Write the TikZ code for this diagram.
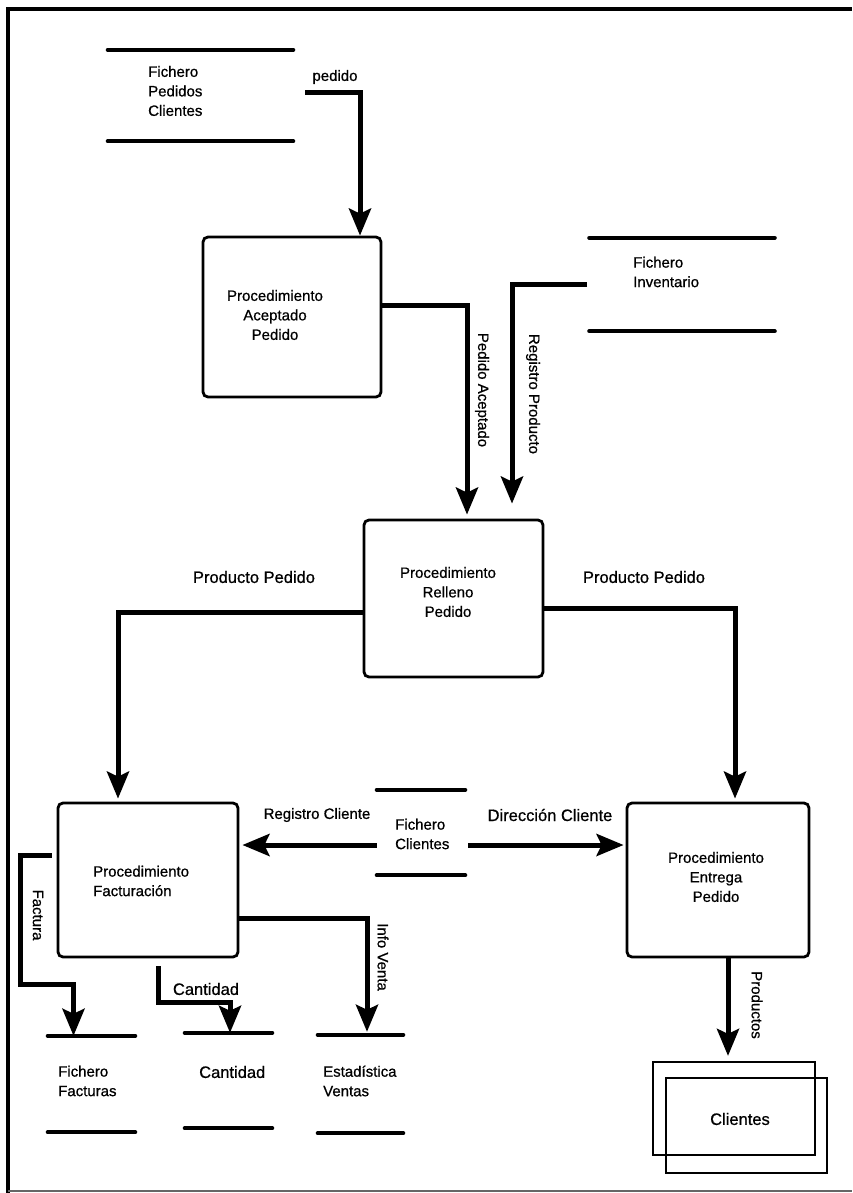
\documentclass[tikz,border=0pt]{standalone}
\usepackage{fontspec}
\setmainfont{Liberation Sans}[FakeBold=0.7]
\usetikzlibrary{arrows.meta,calc}

\tikzset{
  txt/.style={inner sep=0pt, font=\fontsize{15pt}{19.5pt}\selectfont},
  widetxt/.style={inner sep=0pt, font=\fontsize{16.5pt}{20pt}\selectfont},
  boxtext/.style={txt, align=center},
  storetext/.style={txt, align=left, anchor=west},
  flowlabel/.style={txt},
  vlabel/.style={txt, rotate=-90},
  proc/.style={draw, line width=2.8pt, rounded corners=5pt, inner sep=0pt},
  store/.style={inner sep=0pt},
  storeline/.style={line width=4.2pt, line cap=round},
  entity/.style={draw, line width=2.2pt, inner sep=0pt},
  flow/.style={line width=5pt, line join=miter,
    -{Stealth[length=27pt, width=22pt, inset=5pt]}},
}

\begin{document}
\begin{tikzpicture}[x=1pt, y=-1pt]
\useasboundingbox (0,0) rectangle (852,1193);

% page frame
\draw[line width=4pt] (8,1193) -- (8,9) -- (852,9);
\draw[black!60, line width=1.5pt] (8,1191) -- (852,1191);

% ---------- data stores ----------
\node[store, minimum width=185pt, minimum height=91pt] (fpc) at (200.5,95.5) {};
\node[storetext] (fpct) at (148,91) {Fichero\\Pedidos\\Clientes};

\node[store, minimum width=185pt, minimum height=93pt] (finv) at (682,284.5) {};
\node[storetext] (finvt) at (633,272) {Fichero\\Inventario};

\node[store, minimum width=88pt, minimum height=85pt] (fcli) at (421,832.5) {};
\node[storetext] (fclit) at (395,834) {Fichero\\Clientes};

\node[store, minimum width=87pt, minimum height=96pt] (ffac) at (91.5,1084) {};
\node[storetext] (ffact) at (58,1081) {Fichero\\Facturas};

\node[store, minimum width=87pt, minimum height=95pt] (fcant) at (228.5,1080.5) {};
\node[storetext, widetxt] (fcantt) at (199,1072) {Cantidad};

\node[store, minimum width=85pt, minimum height=98pt] (fest) at (360.5,1084) {};
\node[storetext] (festt) at (323,1081) {Estadística\\Ventas};

\foreach \s in {fpc,finv,fcli,ffac,fcant,fest}{
  \draw[storeline] (\s.north west) -- (\s.north east);
  \draw[storeline] (\s.south west) -- (\s.south east);
}

% ---------- processes ----------
\node[proc, minimum width=178pt, minimum height=160pt] (p1) at (292,317) {};
\node[boxtext] (p1t) at (275,315) {Procedimiento\\Aceptado\\Pedido};

\node[proc, minimum width=179pt, minimum height=157pt] (p2) at (453.5,598.5) {};
\node[boxtext] (p2t) at (448,592) {Procedimiento\\Relleno\\Pedido};

\node[proc, minimum width=180pt, minimum height=154pt] (p3) at (148,880) {};
\node[storetext] (p3t) at (93,881) {Procedimiento\\Facturación};

\node[proc, minimum width=182pt, minimum height=154pt] (p4) at (718,880) {};
\node[boxtext] (p4t) at (716,877) {Procedimiento\\Entrega\\Pedido};

% ---------- external entity ----------
\node[entity, minimum width=162pt, minimum height=93pt] (cliA) at (734,1108.5) {};
\node[entity, minimum width=161pt, minimum height=95pt] (cliB) at (746.5,1125.5) {};
\node[widetxt] (clit) at (740,1119) {Clientes};

% ---------- flows ----------
\coordinate (pedidoStart) at (305,93);
\draw[flow] (pedidoStart) -| ($(p1.north)+(68,0)$);
\node[flowlabel] (lpedido) at (335,77) {pedido};

\draw[flow] ($(p1.east)+(0,-12)$) -| ($(p2.north)+(13.5,-4)$);
\node[vlabel] (lpacep) at (482,390) {Pedido Aceptado};

\coordinate (regStart) at (587,284);
\draw[flow] (regStart) -| ($(p2.north)+(58.5,-15)$);
\node[vlabel] (lregp) at (533,394) {Registro Producto};

\draw[flow] ($(p2.west)+(0,13.5)$) -| ($(p3.north)+(-30,-3)$);
\node[widetxt] (lpp1) at (254,577) {Producto Pedido};

\draw[flow] ($(p2.east)+(0,9.5)$) -| ($(p4.north)+(17,-3)$);
\node[widetxt] (lpp2) at (644,577) {Producto Pedido};

\draw[flow] ($(fcli.west)+(0,12.5)$) -- ($(p3.east)+(3,-35)$);
\node[flowlabel] (lregc) at (317,815) {Registro Cliente};

\draw[flow] ($(fcli.east)+(3,12.5)$) -- ($(p4.west)+(-2,-35)$);
\node[widetxt] (ldir) at (550,815) {Dirección Cliente};

\draw[flow] ($(p3.west)+(-5,-25)$) -- ++(-31,0) |- ($(ffac.north)+(-18,-51)$)
  -- ($(ffac.north)+(-18,0)$);
\node[vlabel] (lfact) at (38,915) {Factura};

\draw[flow] ($(p3.south)+(10,8)$) |- ($(fcant.north)+(1.5,-30)$)
  -- ($(fcant.north)+(1.5,0)$);
\node[widetxt] (lcant) at (206,989) {Cantidad};

\draw[flow] ($(p3.east)+(0,38)$) -| ($(fest.north)+(6.5,-3)$);
\node[vlabel] (linfo) at (383,957) {Info Venta};

\draw[flow] ($(p4.south)+(10,0)$) -- ($(cliA.north)+(-6,-5)$);
\node[vlabel] (lprod) at (757,1005) {Productos};

\end{tikzpicture}
\end{document}
